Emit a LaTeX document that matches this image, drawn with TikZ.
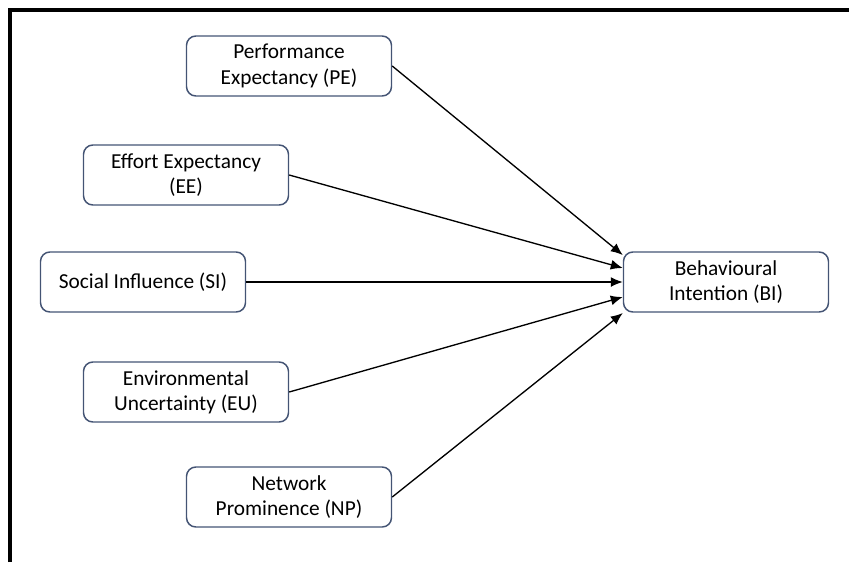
\documentclass[tikz,border=0pt]{standalone}
\usepackage{fontspec}
\setmainfont{Carlito}
\usetikzlibrary{arrows.meta,positioning,calc}
\definecolor{boxblue}{RGB}{68,84,116}
\tikzset{
  construct/.style={draw=boxblue, line width=1.1pt, rounded corners=7pt, minimum width=153.75pt, minimum height=45pt, align=center, inner sep=2pt, font=\fontsize{16}{19}\selectfont},
  arrow/.style={-{Latex[length=9pt,width=7.5pt]}, line width=1pt},
}

\begin{document}
\begin{tikzpicture}[x=0.75pt,y=-0.75pt]
  \useasboundingbox (0,0) rectangle (849,562);
  % frame (only top and left edges are visible)
  \draw[line width=2.6pt] (10,562) -- (10,10) -- (849,10);

  \node[construct] (pe) at (289,66) {Performance\\Expectancy (PE)};
  \node[construct] (ee) at (186,175) {Effort Expectancy\\(EE)};
  \node[construct] (si) at (143,282) {Social Influence (SI)};
  \node[construct] (eu) at (186,392) {Environmental\\Uncertainty (EU)};
  \node[construct] (np) at (289,497) {Network\\Prominence (NP)};

  \node[construct] (bi) at (726,282) {Behavioural\\Intention (BI)};

  % arrow tips spread along the west side of BI
  \coordinate (bi-pe) at ($(bi.west)+(0,-27)$);
  \coordinate (bi-ee) at ($(bi.west)+(0,-14)$);
  \coordinate (bi-si) at (bi.west);
  \coordinate (bi-eu) at ($(bi.west)+(0,15)$);
  \coordinate (bi-np) at ($(bi.west)+(0,31)$);

  \draw[arrow] (pe.east) -- (bi-pe);
  \draw[arrow] (ee.east) -- (bi-ee);
  \draw[arrow] (si.east) -- (bi-si);
  \draw[arrow] (eu.east) -- (bi-eu);
  \draw[arrow] (np.east) -- (bi-np);
\end{tikzpicture}
\end{document}
